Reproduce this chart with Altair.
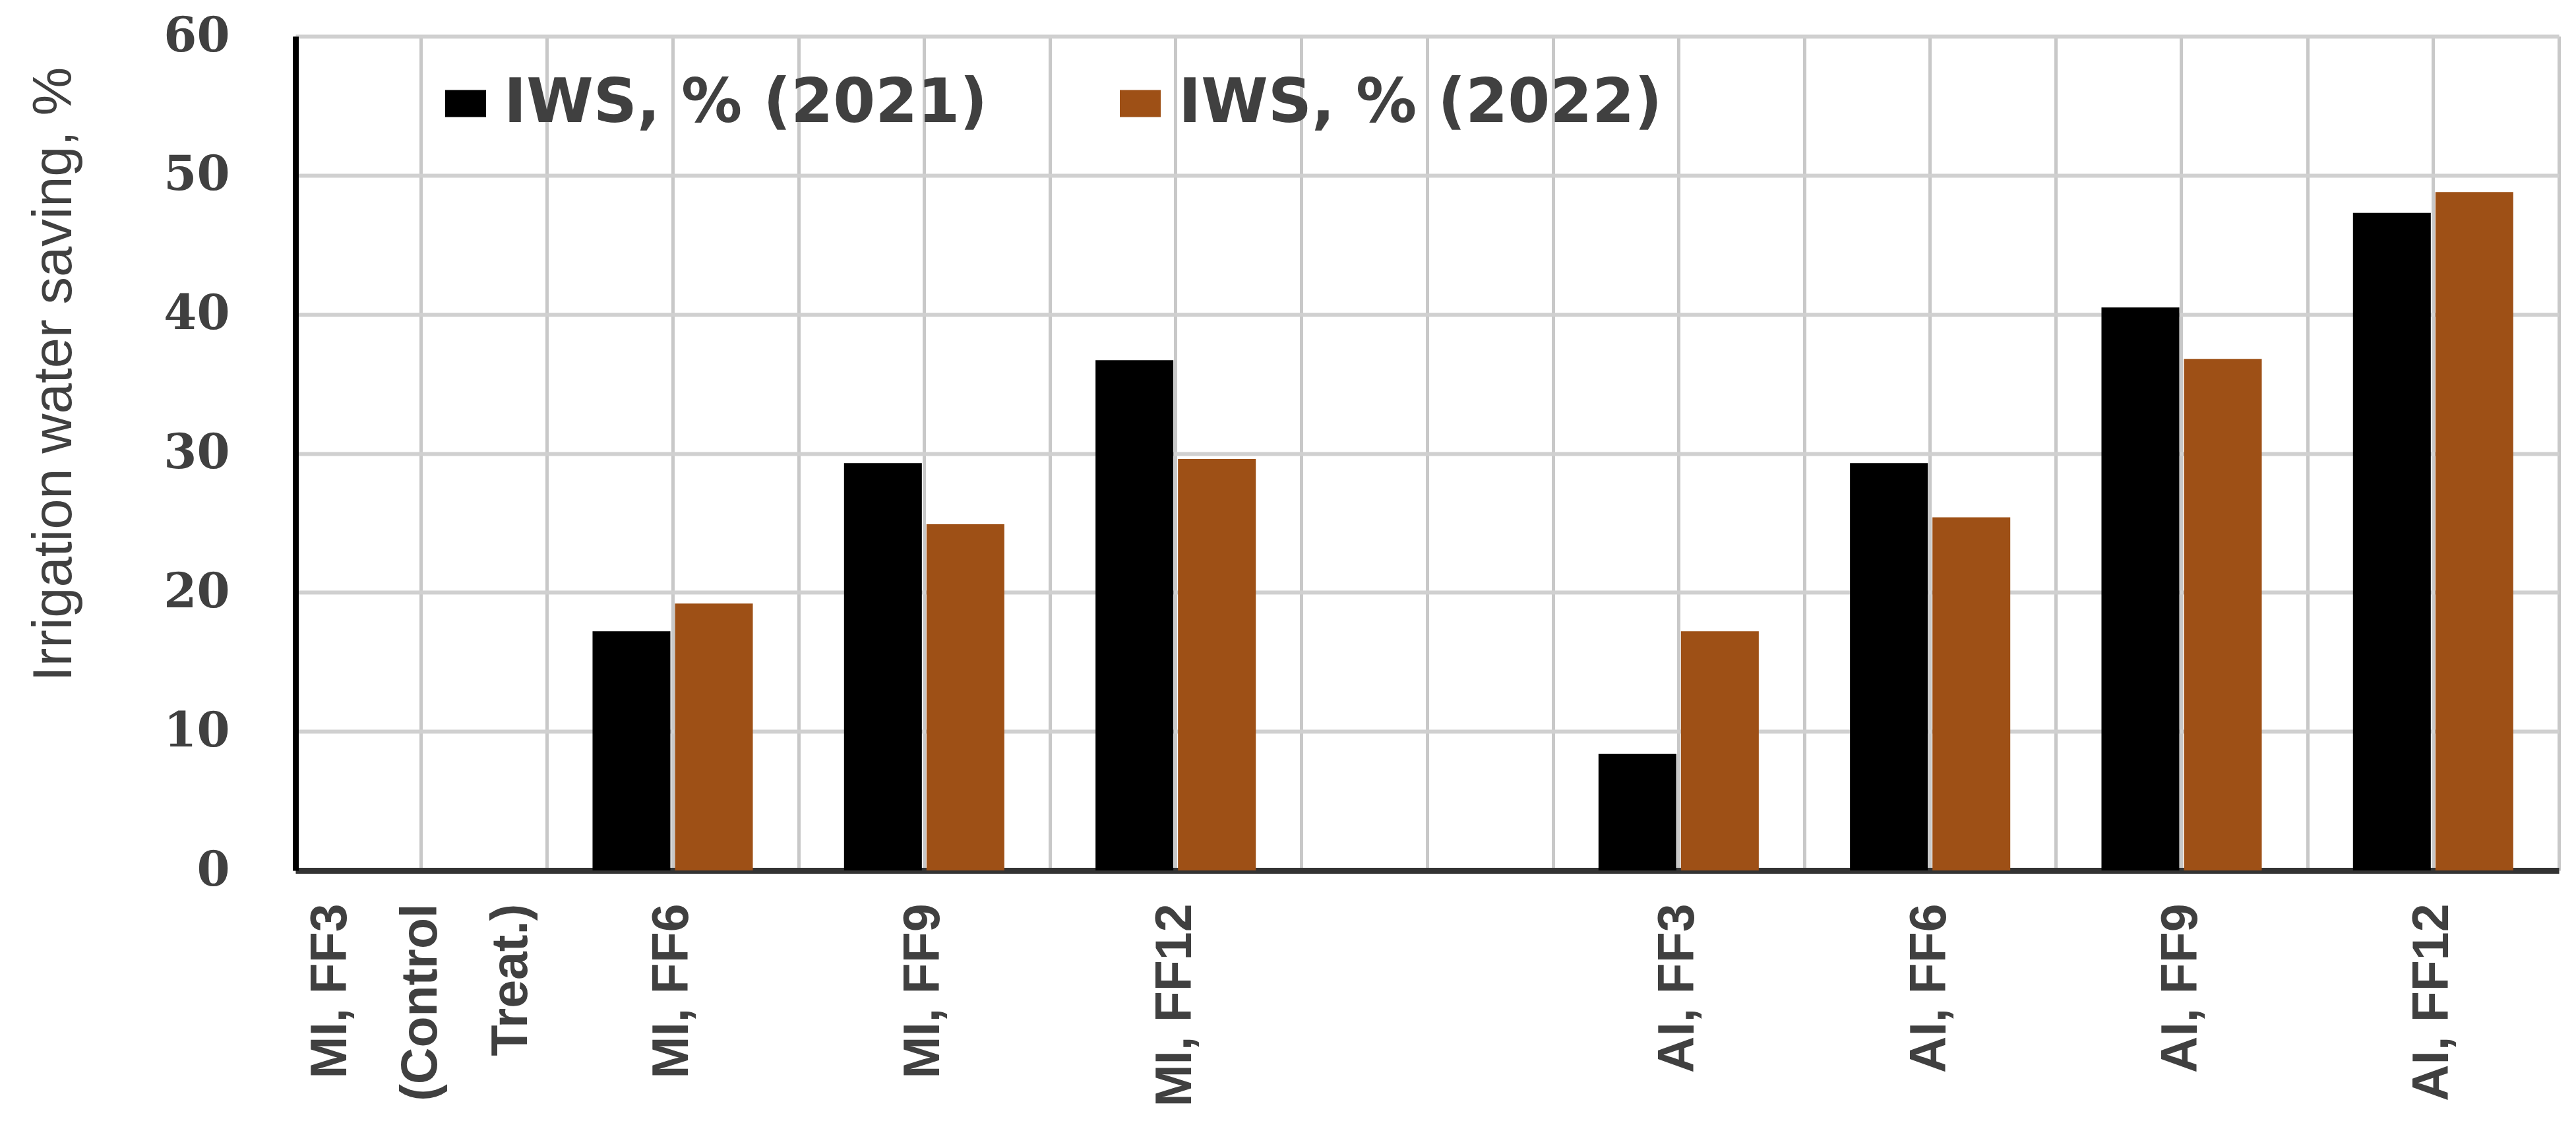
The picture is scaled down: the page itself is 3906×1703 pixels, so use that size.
import altair as alt
import pandas as pd

categories = ["MI, FF3|(Control|Treat.)", "MI, FF6", "MI, FF9", "MI, FF12", " ",
              "AI, FF3", "AI, FF6", "AI, FF9", "AI, FF12"]
series = ["IWS, % (2021)", "IWS, % (2022)"]
iws_2021 = [0, 17.2, 29.3, 36.7, None, 8.4, 29.3, 40.5, 47.3]
iws_2022 = [0, 19.2, 24.9, 29.6, None, 17.2, 25.4, 36.8, 48.8]
colors = ["#000000", "#9E5016"]
y_ticks = [0, 10, 20, 30, 40, 50, 60]

rows = []
for c, a, b in zip(categories, iws_2021, iws_2022):
    if a is not None:
        rows.append({"cat": c, "series": series[0], "value": a})
    if b is not None:
        rows.append({"cat": c, "series": series[1], "value": b})
df = pd.DataFrame(rows)

xscale = alt.Scale(domain=categories, paddingInner=0, paddingOuter=0)
yscale = alt.Scale(domain=[0, 60], nice=False, zero=True)

base = alt.Chart(df)

multi_label_shift = {"condition": {"test": "indexof(datum.value, '|') >= 0", "value": -137},
                     "value": 0}

bars = base.mark_bar().encode(
    x=alt.X("cat:N", scale=xscale, sort=categories,
            axis=alt.Axis(title=None, labelAngle=270, labelAlign="right",
                          labelBaseline="middle", labelPadding=50, ticks=False,
                          tickSize=0, domain=True, domainColor="#333333",
                          domainWidth=9, grid=True, gridColor="#c8c8c8",
                          gridWidth=5, labelExpr="split(datum.label, '|')",
                          labelFont="Liberation Sans", labelFontWeight="bold",
                          labelFontSize=77, labelColor="#404040",
                          labelLineHeight=137, labelLimit=2000,
                          labelOffset=multi_label_shift,
                          labelOverlap=False, orient="bottom")),
    xOffset=alt.XOffset("series:N", sort=series,
                        scale=alt.Scale(domain=series, paddingInner=0.056,
                                        paddingOuter=0.553)),
    y=alt.Y("value:Q", scale=yscale,
            axis=alt.Axis(values=y_ticks, title="Irrigation water saving, %",
                          titleFont="Liberation Sans", titleFontSize=83,
                          titleFontWeight="normal", titleColor="#404040",
                          titleAngle=270, titleX=-341, titleY=512,
                          titleBaseline="alphabetic", titleAlign="center",
                          labelFont="DejaVu Serif", labelFontWeight="bold",
                          labelFontSize=72, labelColor="#404040",
                          labelPadding=100, ticks=False, tickSize=0,
                          domainColor="#000000", domainWidth=9,
                          gridColor="#d0d0d0", gridWidth=6)),
    color=alt.Color("series:N", sort=series,
                    scale=alt.Scale(domain=series, range=colors),
                    legend=alt.Legend(title=None, orient="none", legendX=212,
                                      legendY=56, direction="horizontal",
                                      symbolType="M-1,-0.66H1V0.66H-1Z",
                                      symbolSize=3844, symbolStrokeWidth=0,
                                      symbolOpacity=1,
                                      labelFont="DejaVu Sans",
                                      labelFontWeight="bold",
                                      labelFontSize=92, labelColor="#404040",
                                      labelOffset=12, columnPadding=185,
                                      padding=0, labelLimit=2000)),
)

edges = base.mark_bar(opacity=0).encode(
    x=alt.X("cat:N", scale=xscale, sort=categories,
            axis=alt.Axis(title=None, labels=False, ticks=False, tickSize=0,
                          domain=False, grid=True, tickBand="extent",
                          gridColor="#c8c8c8", gridWidth=5, orient="bottom")),
    y=alt.Y("value:Q", scale=yscale),
)

chart = alt.layer(edges, bars).resolve_axis(x="independent").properties(
    width=3432, height=1265,
    autosize=alt.AutoSizeParams(type="none"),
    padding={"left": 440, "top": 47, "right": 10, "bottom": 380},
).configure_view(stroke="#333333", strokeWidth=9).configure(background="white")

chart.save("out.html", embed_options={"renderer": "svg", "actions": False})
